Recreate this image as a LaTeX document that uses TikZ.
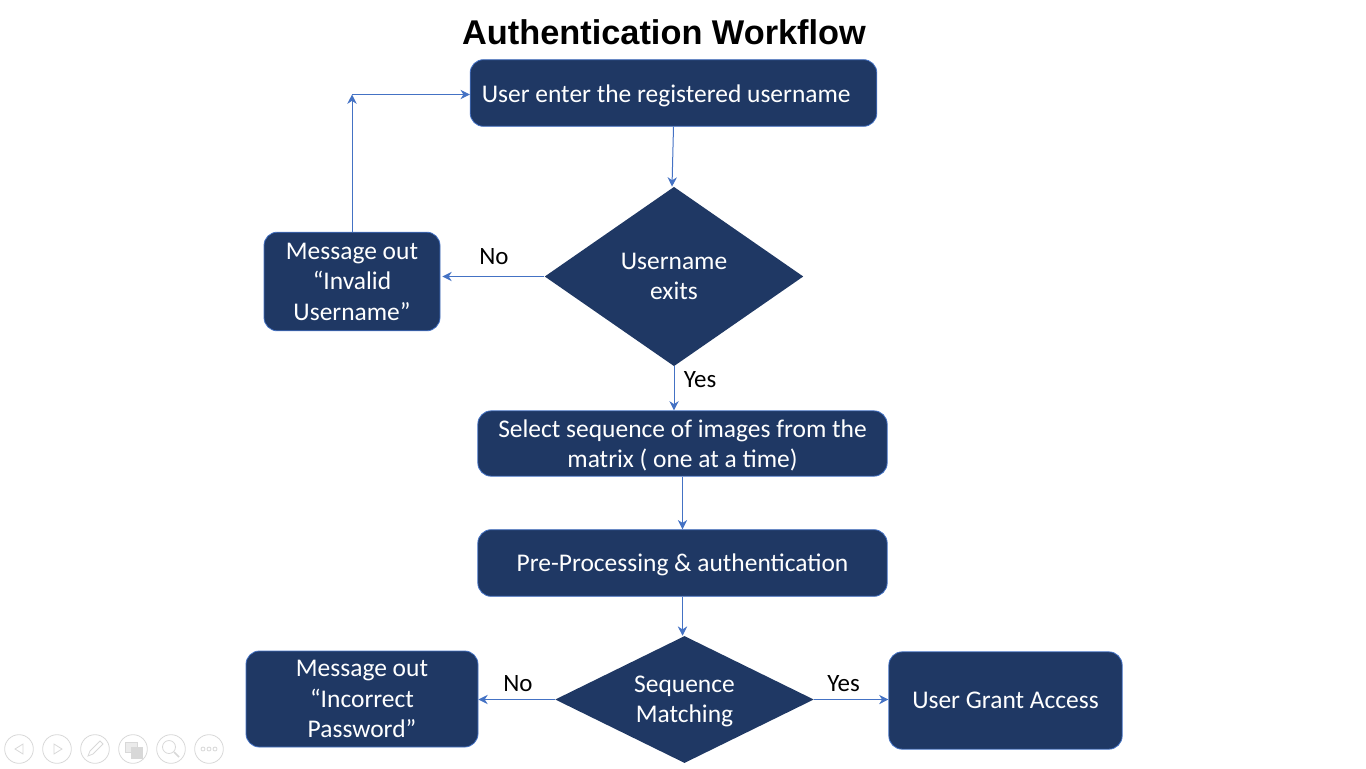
\documentclass[tikz,border=0pt]{standalone}
\usepackage{fontspec}
\setmainfont{Carlito}
\newfontfamily\titlefont{Liberation Sans}
\usetikzlibrary{shapes.geometric,arrows.meta}
\definecolor{boxblue}{HTML}{1F3864}
\definecolor{lineblue}{HTML}{4472C4}
\definecolor{icongray}{HTML}{D8D8D8}
\tikzset{
    box/.style={draw=lineblue,line width=0.6pt,fill=boxblue,rounded corners=10pt,text=white,
        align=center,font=\fontsize{19.1}{22.8}\selectfont,inner sep=0pt,text depth=-1.5pt},
    decision/.style={diamond,fill=boxblue,text=white,align=center,
        font=\fontsize{19.1}{22.8}\selectfont,inner sep=0pt,minimum width=194pt,text depth=-1.5pt},
    flow/.style={draw=lineblue,line width=0.75pt,-{Stealth[length=7pt,width=7pt]}},
    tag/.style={font=\fontsize{18.7}{22}\selectfont,inner sep=0pt},
    icon/.style={draw=icongray,line width=0.6pt}
}
\begin{document}
\begin{tikzpicture}[x=0.75pt,y=-0.75pt]
\useasboundingbox (0,0) rectangle (1366,768);

\node[font=\titlefont\bfseries\fontsize{25.75}{30}\selectfont] (title) at (664,32){Authentication Workflow};

\node[box,minimum width=305pt,minimum height=50pt] (user) at (673.5,93){\hspace{-11pt}\raisebox{-1.5pt}{User enter the registered username}};
\node[decision,minimum height=134.5pt] (name) at (674,276.5){Username\\exits};
\node[box,minimum width=132pt,minimum height=74pt] (invalid) at (352,281.5){Message out\\``Invalid\\Username''};
\node[box,minimum width=307pt,minimum height=49pt] (select) at (682.5,443.5){Select sequence of images from the\\matrix ( one at a time)};
\node[box,minimum width=307pt,minimum height=50pt] (pre) at (682.5,563){Pre-Processing \& authentication};
\node[decision,shape aspect=2,minimum height=95.25pt] (match) at (684.5,699.5){Sequence\\Matching};
\node[box,minimum width=174pt,minimum height=72pt] (incorrect) at (362,699){Message out\\``Incorrect\\Password''};
\node[box,minimum width=175pt,minimum height=73pt] (grant) at (1005.5,700.5){User Grant Access};

\coordinate (corner) at (352,94.5);

\draw[flow] (user.south) -- ([xshift=-1.5pt]name.north);
\draw[flow,shorten >=1.5pt] (name.west) -- (invalid.east |- name.west);
\draw[flow] (invalid.north) -- (corner);
\draw[flow] (corner) -- (user.west |- corner);
\draw[flow] (name.south) -- (select.north -| name.south);
\draw[flow] (select.south) -- (pre.north);
\draw[flow] (pre.south) -- (match.north -| pre.south);
\draw[flow] (match.west) -- (incorrect.east |- match.west);
\draw[flow] (match.east) -- (grant.west |- match.east);

\node[tag] (noa) at (494,257){No};
\node[tag] (yesa) at (700,380){Yes};
\node[tag] (nob) at (518,684){No};
\node[tag] (yesb) at (843.5,684){Yes};

% slide controls
\foreach \i/\cx in {back/19,next/57,pen/95,grid/133,zoom/171,more/209}
    \node[icon,circle,minimum size=21.5pt,inner sep=0pt] (\i) at (\cx,749){};
\draw[icon] (23,744) -- (15,749) -- (23,754) -- cycle;
\draw[icon] (54,744) -- (62,749) -- (54,754) -- cycle;
\draw[icon] (88,756) -- (90,751) -- (100,741) -- (103,744) -- (93,754) -- cycle;
\draw[icon,fill=icongray!50] (125,742) rectangle (137,752);
\draw[icon,fill=icongray] (131,747) rectangle (142,758);
\draw[icon] (169,747) circle (6.5);
\draw[icon,line width=1.2pt] (174,752) -- (179,757);
\foreach \dx in {203,209,215}
    \draw[icon] (\dx,749) circle (2);
\end{tikzpicture}
\end{document}
